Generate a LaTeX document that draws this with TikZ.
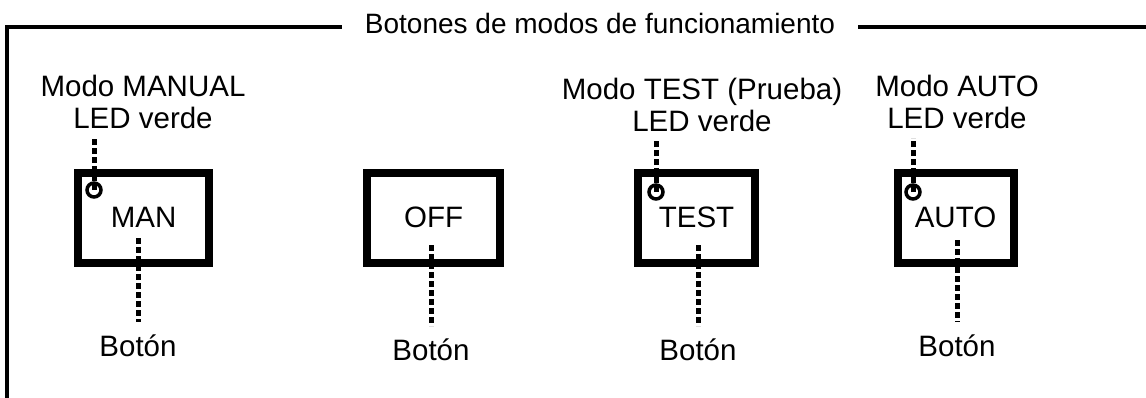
\documentclass[tikz,border=0pt]{standalone}
\usepackage{fontspec}
\setmainfont{Liberation Sans}
\usepackage{tikz}
\usetikzlibrary{positioning,calc}

\begin{document}
\begin{tikzpicture}[x=1pt, y=-1pt,
      font=\fontsize{29.5}{32}\selectfont,
      frame/.style={line width=4.5pt},
      btnbox/.style={draw, line width=8pt, minimum height=90pt, inner sep=0pt},
      led/.style={draw, circle, line width=3.5pt, minimum size=14pt, inner sep=0pt},
      lead/.style={line width=5pt, dash pattern=on 6pt off 3pt},
      ledlbl/.style={align=center, anchor=south, inner xsep=0pt, inner ysep=9pt},
      btnlbl/.style={inner xsep=0pt, inner ysep=13pt}
    ]
    \useasboundingbox (0,0) rectangle (1146,397);
    % frame and title
    \coordinate (frametl) at (7,27);
    \coordinate (framebl) at (7,400);
    \coordinate (frametr) at (1150,27);
    \node[anchor=base, inner xsep=23pt, font=\fontsize{28}{32}\selectfont] (title) at (600,33) {Botones de modos de funcionamiento};
    \draw[frame] (title.west |- frametl) -- (frametl) -- (framebl);
    \draw[frame] (title.east |- frametr) -- (frametr);
    % buttons
    \node[btnbox, minimum width=131pt] (man) at (143.7,217.5) {MAN};
    \node[btnbox, minimum width=133pt] (off) at (433.7,217.5) {OFF};
    \node[btnbox, minimum width=117pt] (test) at (696.5,217.5) {TEST};
    \node[btnbox, minimum width=116pt] (auto) at (955.5,217.5) {AUTO};
    % LEDs and their labels
    \node[led] (manled) at (94,190) {};
    \node[led] (testled) at (656,192) {};
    \node[led] (autoled) at (913,192) {};
    \node[ledlbl] (manlbl) at (143,138) {Modo MANUAL\\LED verde};
    \node[ledlbl] (testlbl) at (702,141) {Modo TEST (Prueba)\\LED verde};
    \node[ledlbl] (autolbl) at (957,138) {Modo AUTO\\LED verde};
    \draw[lead] (manled.center) -- (manled.center |- manlbl.south);
    \draw[lead] (testled.center) -- (testled.center |- testlbl.south);
    \draw[lead] (autoled.center) -- (autoled.center |- autolbl.south);
    % push points and their labels
    \coordinate (manpush) at (138,238);
    \coordinate (offpush) at (431,245);
    \coordinate (testpush) at (698,245);
    \coordinate (autopush) at (957,240);
    \node[btnlbl, below=84pt of manpush] (manbtn) {Botón};
    \node[btnlbl, below=81pt of offpush] (offbtn) {Botón};
    \node[btnlbl, below=81pt of testpush] (testbtn) {Botón};
    \node[btnlbl, below=82pt of autopush] (autobtn) {Botón};
    \draw[lead] (manpush) -- (manbtn);
    \draw[lead] (offpush) -- (offbtn);
    \draw[lead] (testpush) -- (testbtn);
    \draw[lead] (autopush) -- (autobtn);
  \end{tikzpicture}
\end{document}
